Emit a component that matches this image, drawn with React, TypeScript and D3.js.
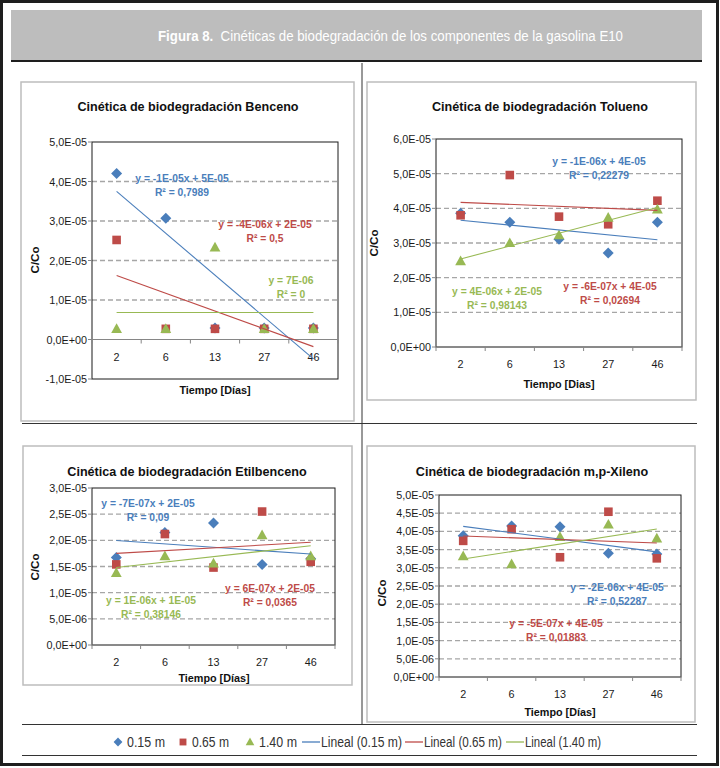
import React from 'react'
import * as d3 from 'd3'

const categories = ['2', '6', '13', '27', '46']
const seriesNames = ['0.15 m', '0.65 m', '1.40 m']
const seriesColors = ['#4a7ebb', '#be4b48', '#98b954']

// valores C/Co
const benceno015 = [4.2e-5, 3.07e-5, 0.29e-5, 0.29e-5, 0.29e-5]
const benceno065 = [2.52e-5, 0.27e-5, 0.27e-5, 0.27e-5, 0.27e-5]
const benceno140 = [0.27e-5, 0.27e-5, 2.33e-5, 0.27e-5, 0.27e-5]

const tolueno015 = [3.86e-5, 3.6e-5, 3.11e-5, 2.71e-5, 3.6e-5]
const tolueno065 = [3.8e-5, 4.96e-5, 3.76e-5, 3.54e-5, 4.22e-5]
const tolueno140 = [2.48e-5, 3.0e-5, 3.23e-5, 3.73e-5, 3.97e-5]

const etil015 = [1.67e-5, 2.15e-5, 2.33e-5, 1.54e-5, 1.65e-5]
const etil065 = [1.54e-5, 2.12e-5, 1.48e-5, 2.55e-5, 1.59e-5]
const etil140 = [1.38e-5, 1.7e-5, 1.56e-5, 2.1e-5, 1.7e-5]

const xileno015 = [3.88e-5, 4.15e-5, 4.13e-5, 3.4e-5, 3.38e-5]
const xileno065 = [3.74e-5, 4.06e-5, 3.29e-5, 4.54e-5, 3.26e-5]
const xileno140 = [3.32e-5, 3.1e-5, 3.85e-5, 4.19e-5, 3.81e-5]

const bencenoEq = [['y = -1E-05x + 5E-05', 'R² = 0,7989'], ['y = -4E-06x + 2E-05', 'R² = 0,5'], ['y = 7E-06', 'R² = 0']]
const toluenoEq = [['y = -1E-06x + 4E-05', 'R² = 0,22279'], ['y = -6E-07x + 4E-05', 'R² = 0,02694'], ['y = 4E-06x + 2E-05', 'R² = 0,98143']]
const etilEq = [['y = -7E-07x + 2E-05', 'R² = 0,09'], ['y = 6E-07x + 2E-05', 'R² = 0,0365'], ['y = 1E-06x + 1E-05', 'R² = 0,38146']]
const xilenoEq = [['y = -2E-06x + 4E-05', 'R² = 0,52287'], ['y = -5E-07x + 4E-05', 'R² = 0,01883'], null]

const FONT = '"Liberation Sans", Arial, sans-serif'

const panels = [
  {
    title: 'Cinética de biodegradación Benceno',
    xTitle: 'Tiempo [Días]',
    values: [benceno015, benceno065, benceno140],
    eqs: bencenoEq,
    frame: [21, 82, 354, 421],
    plot: [92, 142, 338, 379],
    yDomain: [-1e-5, 5e-5],
    step: 1e-5,
    titlePos: [188, 107],
    xTitlePos: [215, 390],
    yTitlePos: [35, 260],
    eqPos: [[182, 178], [265, 224], [291, 280]],
  },
  {
    title: 'Cinética de biodegradación Tolueno',
    xTitle: 'Tiempo [Dias]',
    values: [tolueno015, tolueno065, tolueno140],
    eqs: toluenoEq,
    frame: [367, 82, 696, 400],
    plot: [436, 139, 682, 347],
    yDomain: [0, 6e-5],
    step: 1e-5,
    titlePos: [540, 107],
    xTitlePos: [559, 384],
    yTitlePos: [374, 243],
    eqPos: [[599, 161], [610, 286], [497, 291]],
  },
  {
    title: 'Cinética de biodegradación Etilbenceno',
    xTitle: 'Tiempo [Días]',
    values: [etil015, etil065, etil140],
    eqs: etilEq,
    frame: [23, 446, 352, 685],
    plot: [92, 488, 335, 645],
    yDomain: [0, 3e-5],
    step: 0.5e-5,
    titlePos: [187, 472],
    xTitlePos: [214, 678],
    yTitlePos: [35, 567],
    eqPos: [[148, 503], [270, 588], [151, 600]],
  },
  {
    title: 'Cinética de biodegradación m,p-Xileno',
    xTitle: 'Tiempo [Días]',
    values: [xileno015, xileno065, xileno140],
    eqs: xilenoEq,
    frame: [367, 446, 695, 722],
    plot: [439, 495, 681, 677],
    yDomain: [0, 5e-5],
    step: 0.5e-5,
    titlePos: [532, 472],
    xTitlePos: [560, 712],
    yTitlePos: [382, 593],
    eqPos: [[617, 587], [556, 623], null],
  },
]

// formato de Excel: 5,0E-05
const fmtSci = (v: number) => {
  if (Math.abs(v) < 1e-12) return '0,0E+00'
  let exp = Math.floor(Math.log10(Math.abs(v)) + 1e-9)
  let mant = Math.round((v / Math.pow(10, exp)) * 10) / 10
  if (Math.abs(mant) >= 10) {
    mant = mant / 10
    exp += 1
  }
  const e = Math.abs(exp).toString().padStart(2, '0')
  return mant.toFixed(1).replace('.', ',') + 'E' + (exp < 0 ? '-' : '+') + e
}

const linreg = (ys: number[]) => {
  const xs = ys.map((_, i) => i + 1)
  const mx = d3.mean(xs) as number
  const my = d3.mean(ys) as number
  const sxy = d3.sum(xs, (x, i) => (x - mx) * (ys[i] - my))
  const sxx = d3.sum(xs, (x) => (x - mx) * (x - mx))
  const slope = sxy / sxx
  return { slope, intercept: my - slope * mx }
}

const marker = (k: number, cx: number, cy: number, s = 1) => {
  if (k === 0) {
    const r = 5.5 * s
    return `M${cx},${cy - r}L${cx + r},${cy}L${cx},${cy + r}L${cx - r},${cy}Z`
  }
  if (k === 1) {
    const h = 4.3 * s
    return `M${cx - h},${cy - h}H${cx + h}V${cy + h}H${cx - h}Z`
  }
  return `M${cx},${cy - 5.6 * s}L${cx + 5.4 * s},${cy + 4.1 * s}L${cx - 5.4 * s},${cy + 4.1 * s}Z`
}

const Panel: React.FC<{ p: (typeof panels)[number] }> = ({ p }) => {
  const [l, t, r, b] = p.plot
  const x = d3.scaleBand().domain(categories).range([l, r]).padding(0)
  const y = d3.scaleLinear().domain(p.yDomain).range([b, t])
  const cx = (c: string) => (x(c) as number) + x.bandwidth() / 2
  const n = Math.round((p.yDomain[1] - p.yDomain[0]) / p.step)
  const ticks = d3.range(0, n + 1).map((i) => +(p.yDomain[0] + i * p.step).toPrecision(8))
  const y0 = y(0)

  return (
    <g>
      <rect x={p.frame[0]} y={p.frame[1]} width={p.frame[2] - p.frame[0]} height={p.frame[3] - p.frame[1]} fill="#fff" stroke="#bdbdbd" strokeWidth={1.5} />
      <text x={p.titlePos[0]} y={p.titlePos[1]} textAnchor="middle" dominantBaseline="central" fontFamily={FONT} fontWeight="bold" fontSize={12.6} fill="#111">
        {p.title}
      </text>
      {ticks
        .filter((v) => v !== 0 && v !== p.yDomain[0] && v !== p.yDomain[1])
        .map((v, i) => (
          <line key={'g' + i} x1={l} x2={r} y1={y(v)} y2={y(v)} stroke="#a6a6a6" strokeWidth={1.3} strokeDasharray="5,3" />
        ))}
      <rect x={l} y={t} width={r - l} height={b - t} fill="none" stroke="#1a1a1a" strokeWidth={1} />
      <line x1={l} x2={r} y1={y0} y2={y0} stroke="#868686" strokeWidth={1} />
      {d3.range(0, categories.length + 1).map((i) => (
        <line key={'ct' + i} x1={l + i * x.bandwidth()} x2={l + i * x.bandwidth()} y1={y0} y2={y0 + 4} stroke="#868686" />
      ))}
      {ticks.map((v, i) => (
        <g key={'yt' + i}>
          <line x1={l - 4} x2={l} y1={y(v)} y2={y(v)} stroke="#868686" />
          <text x={l - 5} y={y(v)} textAnchor="end" dominantBaseline="central" fontFamily={FONT} fontSize={10.8} fill="#1a1a1a">
            {fmtSci(v)}
          </text>
        </g>
      ))}
      {categories.map((c) => (
        <text key={'cl' + c} x={cx(c)} y={y0 + 17} textAnchor="middle" dominantBaseline="central" fontFamily={FONT} fontSize={10.8} fill="#1a1a1a">
          {c}
        </text>
      ))}
      {p.values.map((vals, k) =>
        vals.map((v, i) => <path key={`m${k}-${i}`} d={marker(k, cx(categories[i]), y(v))} fill={seriesColors[k]} />)
      )}
      {p.values.map((vals, k) => {
        const { slope, intercept } = linreg(vals)
        const first = categories[0]
        const last = categories[categories.length - 1]
        return (
          <line
            key={'tl' + k}
            x1={cx(first)}
            x2={cx(last)}
            y1={y(intercept + slope * 1)}
            y2={y(intercept + slope * categories.length)}
            stroke={seriesColors[k]}
            strokeWidth={1.1}
          />
        )
      })}
      {p.eqs.map((eq, k) => {
        const pos = p.eqPos[k]
        if (!eq || !pos) return null
        return (
          <text key={'eq' + k} textAnchor="middle" fontFamily={FONT} fontWeight="bold" fontSize={10.3} fill={seriesColors[k]}>
            <tspan x={pos[0]} y={pos[1] + 4}>{eq[0]}</tspan>
            <tspan x={pos[0]} y={pos[1] + 17.5}>{eq[1]}</tspan>
          </text>
        )
      })}
      <text x={p.xTitlePos[0]} y={p.xTitlePos[1]} textAnchor="middle" dominantBaseline="central" fontFamily={FONT} fontWeight="bold" fontSize={10.8} fill="#111">
        {p.xTitle}
      </text>
      <text
        transform={`translate(${p.yTitlePos[0]},${p.yTitlePos[1]}) rotate(-90)`}
        textAnchor="middle"
        dominantBaseline="central"
        fontFamily={FONT}
        fontWeight="bold"
        fontSize={11.5}
        fill="#111"
      >
        C/Co
      </text>
    </g>
  )
}

// posiciones de la leyenda: marcador/linea y ancho de texto
const legendMarkX = [118, 183, 250]
const legendLineX = [302, 405, 506]
const legendShortW = [38, 37, 38]
const legendLongW = [81, 78, 76]

export default function App() {
  return (
    <svg width={720} height={768} style={{ position: 'absolute', left: 0, top: 0, background: '#fff' }}>
      <rect x={1.5} y={1.5} width={716} height={763} fill="#fff" stroke="#1e1e1e" strokeWidth={3} />
      <rect x={11} y={10} width={691} height={50} fill="#bdbdbd" />
      <line x1={11} x2={702} y1={61} y2={61} stroke="#1e1e1e" strokeWidth={2} />
      <text x={158} y={36} dominantBaseline="central" fontFamily={FONT} fontSize={14} fill="#fff" textLength={465} lengthAdjust="spacingAndGlyphs">
        <tspan fontWeight="bold">Figura 8.</tspan>
        <tspan>{'\u00a0 Cinéticas de biodegradación de los componentes de la gasolina E10'}</tspan>
      </text>
      <line x1={362} x2={362} y1={63} y2={724} stroke="#333" strokeWidth={1} />
      {panels.map((p, i) => (
        <Panel key={i} p={p} />
      ))}
      <line x1={22} x2={697} y1={423.5} y2={423.5} stroke="#333" strokeWidth={1} />
      <line x1={22} x2={697} y1={724.5} y2={724.5} stroke="#333" strokeWidth={1} />
      <line x1={22} x2={697} y1={755.5} y2={755.5} stroke="#333" strokeWidth={1} />
      {seriesNames.map((name, k) => (
        <g key={'lg' + k}>
          <path d={marker(k, legendMarkX[k], 742, 0.8)} fill={seriesColors[k]} />
          <text x={legendMarkX[k] + 9} y={742} dominantBaseline="central" fontFamily={FONT} fontSize={14} fill="#333" textLength={legendShortW[k]} lengthAdjust="spacingAndGlyphs">
            {name}
          </text>
        </g>
      ))}
      {seriesNames.map((name, k) => (
        <g key={'ll' + k}>
          <line x1={legendLineX[k]} x2={legendLineX[k] + 18} y1={742} y2={742} stroke={seriesColors[k]} strokeWidth={1.3} />
          <text x={legendLineX[k] + 19} y={742} dominantBaseline="central" fontFamily={FONT} fontSize={14} fill="#333" textLength={legendLongW[k]} lengthAdjust="spacingAndGlyphs">
            {`Lineal (${name})`}
          </text>
        </g>
      ))}
    </svg>
  )
}
